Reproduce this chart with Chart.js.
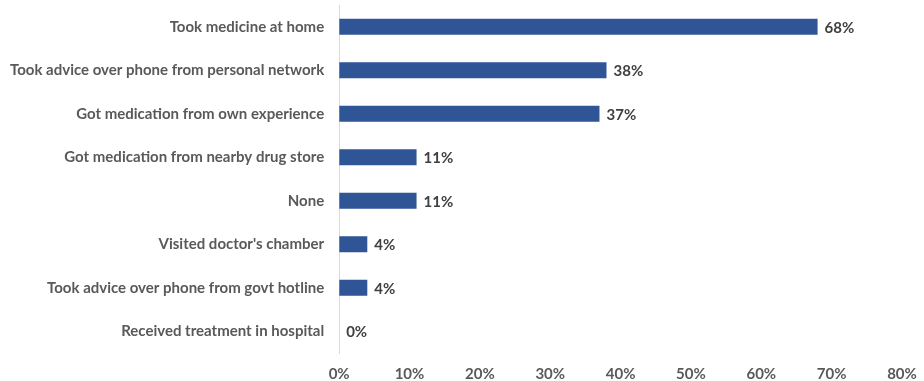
<!DOCTYPE html>
<html>
<head>
<meta charset="utf-8">
<script src="https://cdn.jsdelivr.net/npm/chart.js@4"></script>
<style>
  body { margin: 0; background: #fff; }
  #wrap { width: 924px; height: 381px; }
</style>
</head>
<body>
<div id="wrap"><canvas id="myChart" width="924" height="381"></canvas></div>
<script>
const categories = [
    'Took medicine at home',
    'Took advice over phone from personal network',
    'Got medication from own experience',
    'Got medication from nearby drug store',
    'None',
    "Visited doctor's chamber",
    'Took advice over phone from govt hotline',
    'Received treatment in hospital'
];
const percentValues = [68, 38, 37, 11, 11, 4, 4, 0];
const tickLabels = ['0%', '10%', '20%', '30%', '40%', '50%', '60%', '70%', '80%'];

const fontFamily = "Lato, 'Open Sans', sans-serif";

// draws the value at the end of each bar
const valueLabels = {
    id: 'valueLabels',
    afterDatasetsDraw(chart) {
        const ctx = chart.ctx;
        const meta = chart.getDatasetMeta(0);
        ctx.save();
        ctx.font = 'bold 15px ' + fontFamily;
        ctx.fillStyle = '#404040';
        ctx.textAlign = 'left';
        ctx.textBaseline = 'middle';
        meta.data.forEach(function (bar, i) {
            ctx.fillText(percentValues[i] + '%', bar.x + 7, bar.y + 1);
        });
        ctx.restore();
    }
};

const ctx = document.getElementById('myChart').getContext('2d');
new Chart(ctx, {
    type: 'bar',
    data: {
        labels: categories,
        datasets: [{
            data: percentValues,
            backgroundColor: '#2F5597',
            borderColor: '#2F5597',
            borderWidth: 0,
            barPercentage: 0.37,
            categoryPercentage: 1
        }]
    },
    options: {
        indexAxis: 'y',
        responsive: false,
        animation: false,
        layout: { padding: { top: 5, right: 22, bottom: -2, left: 10 } },
        plugins: {
            legend: { display: false },
            title: { display: false },
            tooltip: { enabled: false }
        },
        scales: {
            x: {
                min: 0,
                max: 80,
                // hidden tick marks push the labels down instead of ticks.padding
                grid: { display: false, drawTicks: true, tickLength: 12 },
                border: { display: false },
                ticks: {
                    stepSize: 10,
                    padding: 0,
                    color: '#595959',
                    font: { family: fontFamily, size: 15, weight: 'bold' },
                    callback: function (v, i) { return tickLabels[i]; }
                }
            },
            y: {
                // invisible tick marks give the gap between labels and axis
                grid: { display: false, drawTicks: true, tickLength: 15 },
                border: { display: true, color: '#D9D9D9', width: 1 },
                ticks: {
                    padding: 0,
                    color: '#595959',
                    font: { family: fontFamily, size: 15, weight: 'bold', lineHeight: 0.6 }
                }
            }
        }
    },
    plugins: [valueLabels]
});
</script>
</body>
</html>
